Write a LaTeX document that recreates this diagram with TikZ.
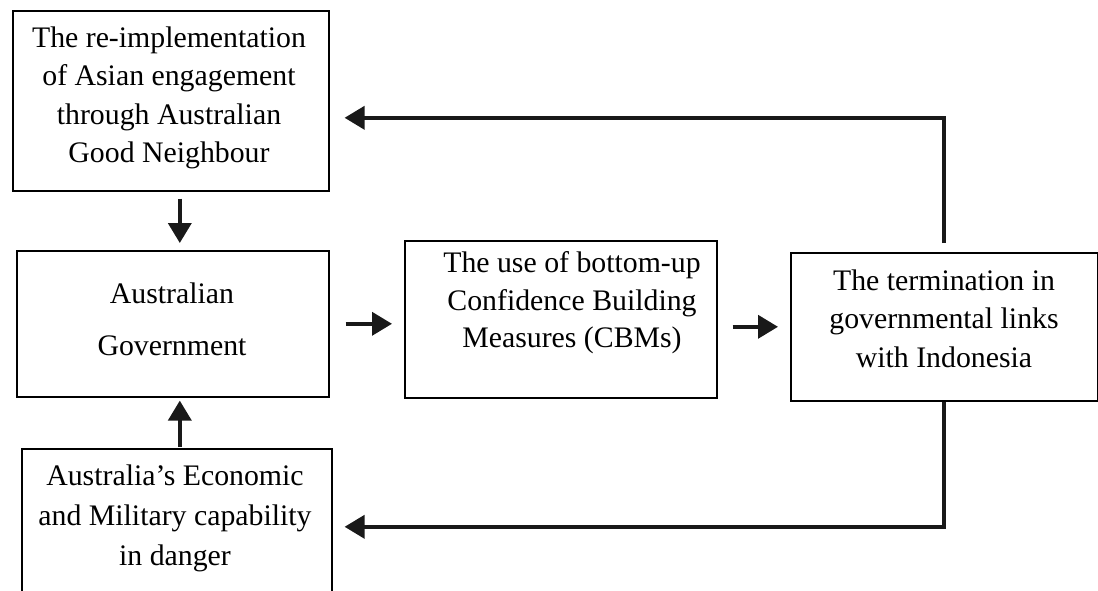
\documentclass[tikz,border=0pt]{standalone}
\usepackage{fontspec}
\setmainfont{Liberation Serif}
\usetikzlibrary{arrows.meta,calc}
\tikzset{
  boxnode/.style={draw=black, line width=1.6pt, inner sep=0pt, anchor=north west, rectangle},
  txt/.style={inner sep=0pt, align=center},
  arr/.style={line width=3.8pt, draw=black!90, -{Triangle[length=20pt,width=23pt]}},
}
\newcommand{\bodyfont}[1]{\fontsize{29.8}{#1}\selectfont}
\begin{document}
\begin{tikzpicture}[x=1pt,y=-1pt]
\clip (0,0) rectangle (1098,590);
\useasboundingbox (0,0) rectangle (1098,590);
\fill[white] (0,0) rectangle (1098,590);
% boxes
\node[boxnode, minimum width=316pt, minimum height=180pt] (b1) at (12,10) {};
\node[boxnode, minimum width=312pt, minimum height=146pt] (b2) at (16,250) {};
\node[boxnode, minimum width=312pt, minimum height=157pt] (b3) at (404,240) {};
\node[boxnode, minimum width=307pt, minimum height=148pt] (b4) at (790,252) {};
\node[boxnode, minimum width=310pt, minimum height=156pt] (b5) at (21,448) {};
% texts
\node[txt, font=\bodyfont{38.5}] (t1) at (169,98) {The re-implementation\\of Asian engagement\\through Australian\\Good Neighbour};
\node[txt, font=\bodyfont{52}] (t2) at (172,319) {Australian\\Government};
\node[txt, font=\bodyfont{37.5}] (t3) at (572,303) {The use of bottom-up\\Confidence Building\\Measures (CBMs)};
\node[txt, font=\bodyfont{38.5}] (t4) at (944,318.5) {The termination in\\governmental links\\with Indonesia};
\node[txt, font=\bodyfont{40}] (t5) at (175,518) {Australia’s Economic\\and Military capability\\in danger};
% connectors
\draw[arr, shorten <=7pt, shorten >=7pt] ([xshift=9pt]b1.south) -- ([xshift=9pt]b1.south |- b2.north);
\draw[arr, shorten <=1pt, shorten >=3pt] ([xshift=3pt]b5.north) -- ([xshift=3pt]b5.north |- b2.south);
\draw[arr, shorten <=16pt, shorten >=12pt] (b2.east) -- (b2.east -| b3.west);
\draw[arr, shorten <=15pt, shorten >=12pt] (b4.west -| b3.east) -- (b4.west);
\coordinate (c1) at ([yshift=-17pt]b1.east);
\draw[arr, shorten <=9pt, shorten >=15pt] (b4.north) |- (c1);
\draw[arr, shorten >=12pt] (b4.south) |- (b5.east);
\end{tikzpicture}
\end{document}
